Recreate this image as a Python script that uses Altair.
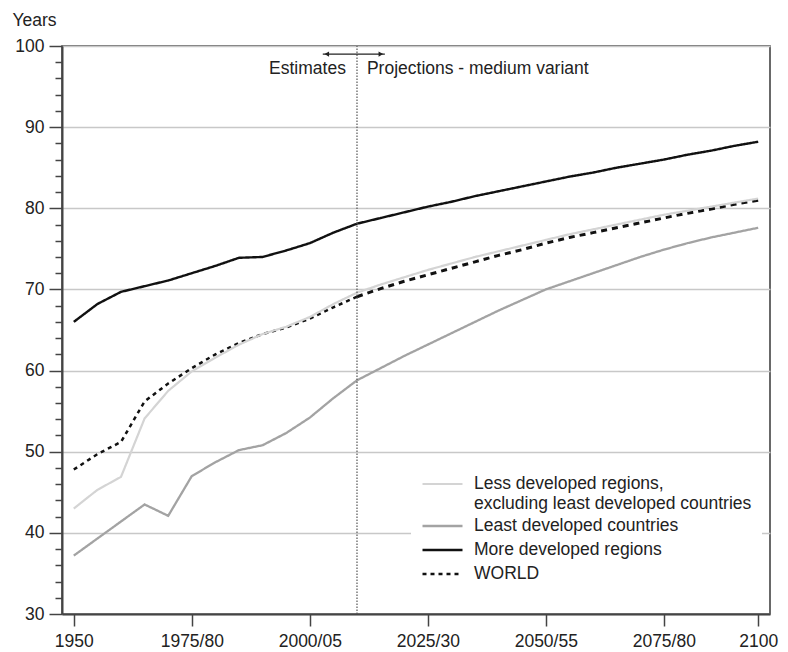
import altair as alt
import pandas as pd

FONT = "Liberation Sans"
FS = 17.5

periods = [
    "1950-1955", "1955-1960", "1960-1965", "1965-1970", "1970-1975",
    "1975-1980", "1980-1985", "1985-1990", "1990-1995", "1995-2000",
    "2000-2005", "2005-2010", "2010-2015", "2015-2020", "2020-2025",
    "2025-2030", "2030-2035", "2035-2040", "2040-2045", "2045-2050",
    "2050-2055", "2055-2060", "2060-2065", "2065-2070", "2070-2075",
    "2075-2080", "2080-2085", "2085-2090", "2090-2095", "2095-2100",
]

tick_index = [0, 5, 10, 15, 20, 25, 29]
tick_text = ["1950", "1975/80", "2000/05", "2025/30", "2050/55", "2075/80", "2100"]

less_dev = [43.0, 45.3, 46.9, 54.1, 57.5, 59.9, 61.6, 63.2, 64.5, 65.4,
            66.6, 68.2, 69.6, 70.6, 71.5, 72.4, 73.2, 74.0, 74.7, 75.4,
            76.1, 76.8, 77.4, 78.0, 78.6, 79.2, 79.7, 80.2, 80.7, 81.2]
ldc = [37.2, 39.3, 41.4, 43.5, 42.1, 47.0, 48.7, 50.2, 50.8, 52.3,
       54.2, 56.6, 58.8, 60.3, 61.8, 63.2, 64.6, 66.0, 67.4, 68.7,
       70.0, 71.0, 72.0, 73.0, 74.0, 74.9, 75.7, 76.4, 77.0, 77.6]
more_dev = [66.0, 68.2, 69.7, 70.4, 71.1, 72.0, 72.9, 73.9, 74.0, 74.8,
            75.7, 77.0, 78.1, 78.8, 79.5, 80.2, 80.8, 81.5, 82.1, 82.7,
            83.3, 83.9, 84.4, 85.0, 85.5, 86.0, 86.6, 87.1, 87.7, 88.2]
world = [47.8, 49.7, 51.2, 56.2, 58.4, 60.3, 62.0, 63.4, 64.5, 65.3,
         66.4, 67.8, 69.1, 70.1, 71.0, 71.8, 72.6, 73.4, 74.2, 74.9,
         75.7, 76.4, 77.0, 77.6, 78.2, 78.8, 79.4, 79.9, 80.5, 81.0]

last_estimate = 12  # 2010-2015: last estimate period

S_LESS = "Less developed regions,|excluding least developed countries"
S_LDC = "Least developed countries"
S_MORE = "More developed regions"
S_WORLD = "WORLD"
series_order = [S_LESS, S_LDC, S_MORE, S_WORLD]

rows = []
for name, vals in [(S_LESS, less_dev), (S_LDC, ldc), (S_MORE, more_dev)]:
    for i, v in enumerate(vals):
        rows.append({"i": i, "period": periods[i], "series": name, "value": v})
for i, v in enumerate(world):
    if i <= last_estimate:
        rows.append({"i": i, "period": periods[i], "series": S_WORLD, "value": v})
df = pd.DataFrame(rows)

world_proj = pd.DataFrame({
    "i": list(range(last_estimate, len(periods))),
    "value": world[last_estimate:],
})

label_expr = "".join(
    f"datum.value == {k} ? '{t}' : " for k, t in zip(tick_index, tick_text)
) + "''"

AX = "#444444"
TXT = "#222222"

x_axis = alt.Axis(
    values=tick_index, labelExpr=label_expr, tickSize=12, tickColor=AX,
    tickWidth=1.5, domainColor=AX, domainWidth=2, grid=False,
    labelFontSize=FS, labelFont=FONT, labelColor=TXT, labelPadding=6,
    title=None,
)
x_enc = alt.X("i:Q", scale=alt.Scale(domain=[-0.5, 29.5], nice=False, zero=False),
              axis=x_axis)

y_scale = alt.Scale(domain=[30, 100], nice=False, zero=False)
y_major = alt.Axis(
    values=list(range(30, 101, 10)), orient="left", tickSize=13, tickColor=AX,
    tickWidth=1.5, domainColor=AX, domainWidth=2, grid=True,
    gridColor="#c8c8c8", gridWidth=1.6, labelFontSize=FS, labelFont=FONT,
    labelColor=TXT, labelPadding=5, title="Years", titleAngle=0,
    titleX=-50, titleY=-26, titleAlign="left", titleBaseline="middle",
    titleFontSize=FS, titleFontWeight="normal", titleFont=FONT, titleColor=TXT,
)
y_minor = alt.Axis(
    values=[v for v in range(32, 100, 2) if v % 10 != 0], orient="left",
    tickSize=7, tickColor=AX, tickWidth=1.5, labels=False, domain=False,
    grid=False, title=None,
)

legend = alt.Legend(
    title=None, orient="none", legendX=349, legendY=418, fillColor="white",
    padding=10, labelFontSize=FS, labelFont=FONT, labelColor=TXT,
    symbolType="stroke", symbolSize=1600, labelExpr="split(datum.label, '|')",
    rowPadding=4, labelOffset=10, labelLimit=420, clipHeight=20,
)

color = alt.Color("series:N", scale=alt.Scale(
    domain=series_order, range=["#d4d4d4", "#a3a3a3", "#111111", "#111111"]),
    legend=legend)
dash = alt.StrokeDash("series:N", scale=alt.Scale(
    domain=series_order, range=[[1, 0], [1, 0], [1, 0], [4, 4]]), legend=legend)
width = alt.StrokeWidth("series:N", scale=alt.Scale(
    domain=series_order, range=[2.2, 2.5, 2.5, 4.5]), legend=legend)

base = alt.Chart(df).mark_line(strokeCap="butt")


def series_layer(name, axis):
    return base.transform_filter(alt.datum.series == name).encode(
        x=x_enc,
        y=alt.Y("value:Q", scale=y_scale, axis=axis),
        color=color, strokeDash=dash, strokeWidth=width,
    )


ldc_layer = series_layer(S_LDC, y_major)
more_layer = series_layer(S_MORE, y_minor)
world_layer = series_layer(S_WORLD, None)
less_layer = series_layer(S_LESS, None)

world_proj_layer = alt.Chart(world_proj).mark_line(
    color="#111111", strokeDash=[6, 5], strokeWidth=3, strokeCap="butt"
).encode(x=x_enc, y=alt.Y("value:Q", scale=y_scale, axis=None))

divider = alt.Chart(pd.DataFrame({"i": [last_estimate]})).mark_rule(
    color="#555555", strokeDash=[1.5, 1.5], strokeWidth=1.2
).encode(x=x_enc, y=alt.datum(30, scale=y_scale, axis=None), y2=alt.datum(100))

arrow_df = pd.DataFrame({"x1": [10.55], "x2": [13.18], "y": [99.0]})
arrow = alt.Chart(arrow_df).mark_rule(color=TXT, strokeWidth=1.2).encode(
    x=x_enc, x2="x2:Q", y=alt.Y("y:Q", scale=y_scale, axis=None)
).transform_calculate(i="datum.x1")

heads_df = pd.DataFrame({"i": [10.72, 13.01], "y": [99.0, 99.0],
                         "shape": ["triangle-left", "triangle-right"]})
heads = alt.Chart(heads_df).mark_point(filled=True, color=TXT, size=28, opacity=1).encode(
    x=x_enc, y=alt.Y("y:Q", scale=y_scale, axis=None),
    shape=alt.Shape("shape:N", scale=None),
)

notes_df = pd.DataFrame({
    "i": [11.53, 12.42], "y": [97.15, 97.15],
    "text": ["Estimates", "Projections - medium variant"],
    "align": ["right", "left"],
})
note_left = alt.Chart(notes_df).transform_filter(alt.datum.align == "right").mark_text(
    align="right", baseline="middle", fontSize=FS, font=FONT, color=TXT
).encode(x=x_enc, y=alt.Y("y:Q", scale=y_scale, axis=None), text="text:N")
note_right = alt.Chart(notes_df).transform_filter(alt.datum.align == "left").mark_text(
    align="left", baseline="middle", fontSize=FS, font=FONT, color=TXT
).encode(x=x_enc, y=alt.Y("y:Q", scale=y_scale, axis=None), text="text:N")

chart = alt.layer(
    ldc_layer, more_layer, world_layer, world_proj_layer, less_layer,
    divider, arrow, heads, note_left, note_right,
).resolve_axis(y="independent").properties(
    width=708, height=568,
    padding={"left": 12, "top": 11, "right": 5, "bottom": 5},
    background="white",
).configure_view(stroke=AX, strokeWidth=1.6).configure_text(font=FONT)

chart.save("out.html", embed_options={"renderer": "svg", "actions": False})
